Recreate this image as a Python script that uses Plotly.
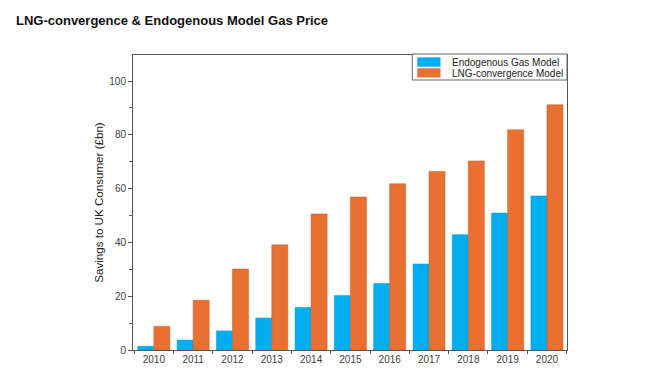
import plotly.graph_objects as go

years = ["2010", "2011", "2012", "2013", "2014", "2015", "2016", "2017", "2018", "2019", "2020"]
endogenous = [1.4, 3.7, 7.1, 11.9, 15.8, 20.3, 24.7, 32.0, 42.9, 50.9, 57.3]
lng_convergence = [8.8, 18.5, 30.1, 39.1, 50.6, 56.9, 61.8, 66.4, 70.3, 81.9, 91.2]
y_ticks = [0, 20, 40, 60, 80, 100]
series_names = ["Endogenous Gas Model", "LNG-convergence Model"]
series_colors = ["#00AEEF", "#E87033"]
series_edges = ["#0098D0", "#C85A22"]

OFF = 8  # default page body margin
W, H = 655 - 2 * OFF, 375 - 2 * OFF
L, R, T, B = 133 - OFF, 567 - OFF, 55 - OFF, 350 - OFF  # plot area in figure pixels


def px(x):
    return (x - OFF - L) / (R - L)


def py(y):
    return (B - (y - OFF)) / (B - T)


fig = go.Figure()
for name, vals, col, edge in zip(series_names, [endogenous, lng_convergence], series_colors, series_edges):
    fig.add_trace(go.Bar(x=years, y=vals, name=name, showlegend=False,
                         marker=dict(color=col, line=dict(color=edge, width=0.5))))

axis_color = "#555555"
fig.update_layout(
    width=W, height=H,
    margin=dict(l=L, r=W - R, t=T, b=H - B),
    paper_bgcolor="white", plot_bgcolor="white",
    barmode="group", bargap=0.185, bargroupgap=0,
    font=dict(family="Arial, Liberation Sans, sans-serif", size=10, color="#404040"),
    title=dict(text="<b>LNG-convergence & Endogenous Model Gas Price</b>",
               x=(16 - OFF) / W, xref="container", xanchor="left", y=1 - (20.5 - OFF) / H,
               yref="container", yanchor="middle",
               font=dict(family="Arial, Liberation Sans, sans-serif", size=13, color="#111111")),
    xaxis=dict(type="category", range=[-0.53, 10.51], showline=True, linecolor=axis_color,
               linewidth=1, mirror=True, ticks="outside", tickson="boundaries",
               ticklen=3, tickcolor=axis_color, showgrid=False, zeroline=False, automargin=False,
               tickfont=dict(size=10, color="#404040")),
    yaxis=dict(range=[0, 109.7], tickvals=y_ticks, showline=True, linecolor=axis_color,
               linewidth=1, mirror=True, ticks="outside", ticklen=4, tickcolor=axis_color,
               minor=dict(ticks="outside", ticklen=3, dtick=10, tickcolor=axis_color, showgrid=False),
               showgrid=False, zeroline=False, automargin=False,
               tickfont=dict(size=10, color="#404040"),
               title=dict(text="Savings to UK Consumer (£bn)", standoff=3,
                          font=dict(size=11.6, color="#222222"))),
    showlegend=False,
)

# Legend box (drawn to match the compact original legend)
fig.add_shape(type="rect", xref="paper", yref="paper",
              x0=px(412.3), x1=px(567), y0=py(80), y1=py(54),
              line=dict(color="#666666", width=1), fillcolor="white", layer="above")
sw_rows = [(57.3, 66.7, 62.3), (68.3, 77.5, 73.3)]
for (y0, y1, yc), name, col in zip(sw_rows, series_names, series_colors):
    fig.add_shape(type="rect", xref="paper", yref="paper",
                  x0=px(417.3), x1=px(440.5), y0=py(y1), y1=py(y0),
                  line=dict(width=0), fillcolor=col, layer="above")
    fig.add_annotation(text=name, xref="paper", yref="paper", x=px(449.5), y=py(yc),
                       xanchor="left", yanchor="middle", showarrow=False,
                       font=dict(size=10, color="#222222"))

fig.write_html("out.html")
